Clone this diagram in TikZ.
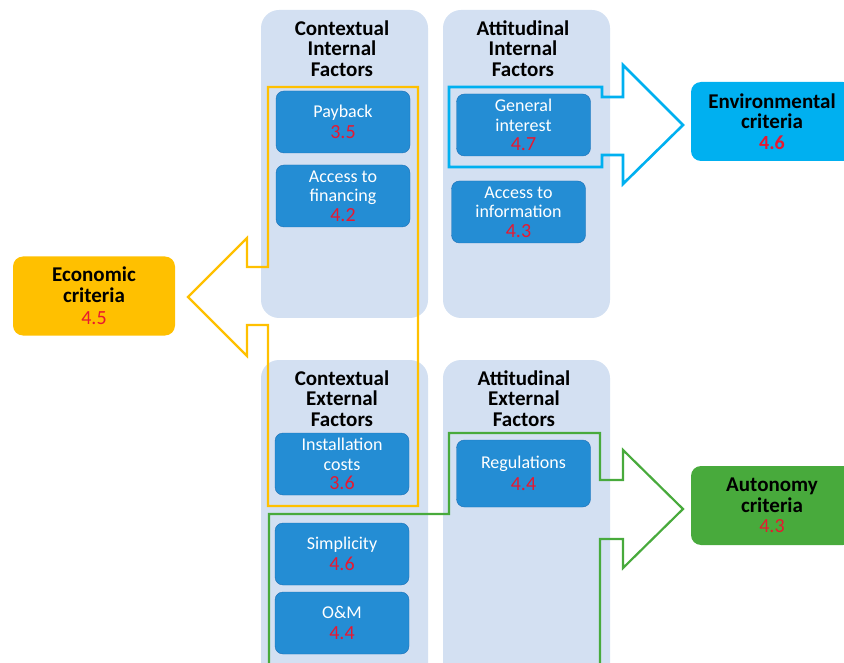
\documentclass[tikz,border=0pt]{standalone}
\usepackage{fontspec}
\setmainfont{Carlito}
\definecolor{panelblue}{RGB}{211,224,242}
\definecolor{factorblue}{RGB}{36,141,212}
\definecolor{factorline}{RGB}{28,112,182}
\definecolor{ecoorange}{RGB}{255,192,0}
\definecolor{envcyan}{RGB}{0,176,240}
\definecolor{autgreen}{RGB}{72,170,60}
\definecolor{numred}{RGB}{232,24,48}
\newcommand{\score}[1]{{\fontsize{20}{20}\selectfont\color{numred}#1}}

\begin{document}
\begin{tikzpicture}[x=1pt, y=-1pt,
		panel/.style={fill=panelblue, rounded corners=18pt, minimum width=167pt, inner sep=0pt},
		heading/.style={font=\fontsize{21}{20.5}\selectfont\bfseries, align=center},
		factor/.style={fill=factorblue, draw=factorline, rounded corners=8pt, minimum width=134pt, minimum height=62pt, inner sep=0pt, text=white, align=center, font=\fontsize{18}{19.5}\selectfont},
		criterion/.style={rounded corners=10pt, minimum width=162pt, minimum height=79pt, inner sep=0pt, align=center, font=\fontsize{21}{20.5}\selectfont\bfseries},
		outline/.style={line width=2.2pt, line join=miter}]
			\useasboundingbox (0,0) rectangle (844,663);
			\node (ci)[panel, minimum height=308pt] at (344.5, 164) {};
			\node (ai)[panel, minimum height=308pt] at (526.5, 164) {};
			\node (ce)[panel, minimum height=330pt] at (344.5, 525) {};
			\node (ae)[panel, minimum height=330pt] at (526.5, 525) {};
			\node (cih)[heading] at (342, 48.5) {Contextual\\Internal\\Factors};
			\node (aih)[heading] at (523, 48.5) {Attitudinal\\Internal\\Factors};
			\node (ceh)[heading] at (342, 398.5) {Contextual\\External\\Factors};
			\node (aeh)[heading] at (524, 398.5) {Attitudinal\\External\\Factors};
			\draw[outline, ecoorange] (268,87) -- (418,87) -- (418,506) -- (268,506) -- (268,325) -- (247,325) -- (247,356) -- (188,297) -- (247,238) -- (247,267) -- (268,267) -- cycle;
			\draw[outline, envcyan, line width=2.6pt] (449,87) -- (602,87) -- (602,97) -- (623,97) -- (623,65) -- (683,125) -- (623,184) -- (623,155) -- (602,155) -- (602,167) -- (449,167) -- cycle;
			\draw[outline, autgreen] (269,663) -- (269,514) -- (449,514) -- (449,433) -- (600,433) -- (600,480) -- (623,480) -- (623,450) -- (683,509) -- (623,568) -- (623,539) -- (600,539) -- (600,663);
			\node (payback)[factor] at (343, 122) {Payback\\[2pt]\score{3.5}};
			\node (financing)[factor] at (343, 196) {Access to\\financing\\\score{4.2}};
			\node (interest)[factor] at (523.5, 125) {General\\interest\\\score{4.7}};
			\node (information)[factor] at (518.5, 212) {Access to\\information\\\score{4.3}};
			\node (installation)[factor] at (342, 464) {Installation\\costs\\\score{3.6}};
			\node (simplicity)[factor] at (342, 554) {Simplicity\\[2pt]\score{4.6}};
			\node (om)[factor] at (342, 623) {O\&M\\[2pt]\score{4.4}};
			\node (regulations)[factor, minimum height=67pt] at (523.5, 473.5) {Regulations\\[2pt]\score{4.4}};
			\node (economic)[criterion, fill=ecoorange] at (94, 296) {Economic\\criteria\\[2pt]\mdseries\score{4.5}};
			\node (environmental)[criterion, fill=envcyan] at (772, 121.5) {Environmental\\criteria\\\score{4.6}};
			\node (autonomy)[criterion, fill=autgreen] at (772, 505.5) {Autonomy\\criteria\\\mdseries\score{4.3}};
		\end{tikzpicture}
\end{document}
